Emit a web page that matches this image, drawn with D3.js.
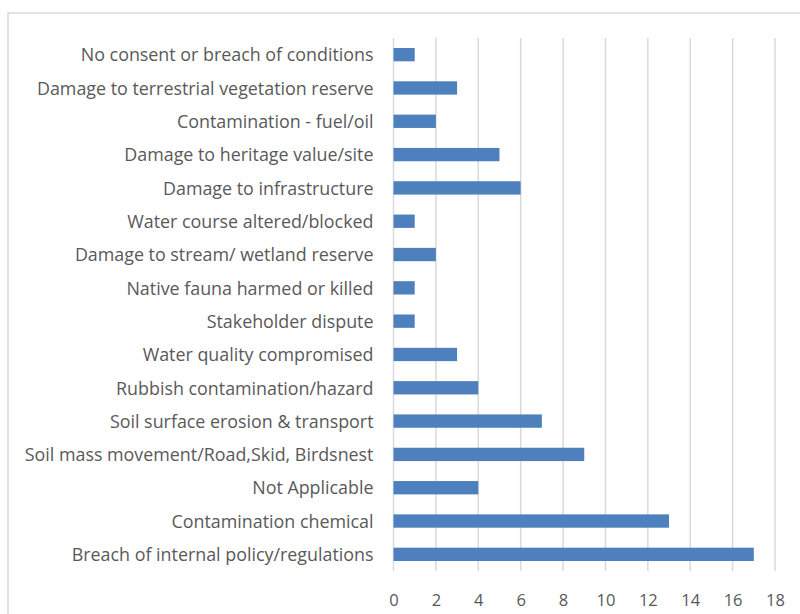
<!DOCTYPE html>
<html><head><meta charset="utf-8">
<script src="https://cdn.jsdelivr.net/npm/d3@7"></script>
<style>body{margin:0;background:#fff}svg{display:block}</style>
</head><body>
<script>
const categories = [
  "No consent or breach of conditions",
  "Damage to terrestrial vegetation reserve",
  "Contamination - fuel/oil",
  "Damage to heritage value/site",
  "Damage to infrastructure",
  "Water course altered/blocked",
  "Damage to stream/ wetland reserve",
  "Native fauna harmed or killed",
  "Stakeholder dispute",
  "Water quality compromised",
  "Rubbish contamination/hazard",
  "Soil surface erosion & transport",
  "Soil mass movement/Road,Skid, Birdsnest",
  "Not Applicable",
  "Contamination chemical",
  "Breach of internal policy/regulations"
];
const values = [1,3,2,5,6,1,2,1,1,3,4,7,9,4,13,17];
const xTicks = [0,2,4,6,8,10,12,14,16,18];

const W = 800, H = 614;
const svg = d3.select("body").append("svg").attr("width", W).attr("height", H);
svg.append("rect").attr("x", 8).attr("y", 13).attr("width", 800).attr("height", 700)
  .attr("fill", "#fff").attr("stroke", "#d9d9d9").attr("stroke-width", 1.5);

const x = d3.scaleLinear().domain([0, 18]).range([393.5, 775]);
const y = d3.scaleBand().domain(categories).range([38, 571]).paddingInner(0.6).paddingOuter(0.3);

const font = "'Open Sans', 'Noto Sans', sans-serif";

svg.append("g").selectAll("line").data(xTicks.slice(1)).join("line")
  .attr("x1", d => x(d)).attr("x2", d => x(d)).attr("y1", 38).attr("y2", 571)
  .attr("stroke", "#d9d9d9").attr("stroke-width", 1.5);
svg.append("line").attr("x1", x(0)).attr("x2", x(0)).attr("y1", 38).attr("y2", 571)
  .attr("stroke", "#d9d9d9").attr("stroke-width", 1.5);

svg.append("g").selectAll("rect").data(values).join("rect")
  .attr("x", x(0)).attr("y", (d, i) => y(categories[i]))
  .attr("width", d => x(d) - x(0)).attr("height", y.bandwidth())
  .attr("fill", "#4e80bd");

const yAxis = svg.append("g").attr("transform", `translate(${x(0)},1)`)
  .call(d3.axisLeft(y).tickSize(0).tickPadding(20));
yAxis.select(".domain").remove();
const yt = yAxis.selectAll("text").attr("fill", "#595959").style("font-family", font).style("font-size", "15px");
let maxW = 0;
yt.each(function(){ maxW = Math.max(maxW, this.getComputedTextLength()); });
const fs = 15 * 349 / maxW;
yt.style("font-size", fs + "px");

const xAxis = svg.append("g").attr("transform", `translate(0,571)`)
  .call(d3.axisBottom(x).tickValues(xTicks).tickSize(0).tickPadding(23));
xAxis.select(".domain").remove();
xAxis.selectAll("text").attr("fill", "#595959").style("font-family", font).style("font-size", "16.5px");
</script>
</body></html>
